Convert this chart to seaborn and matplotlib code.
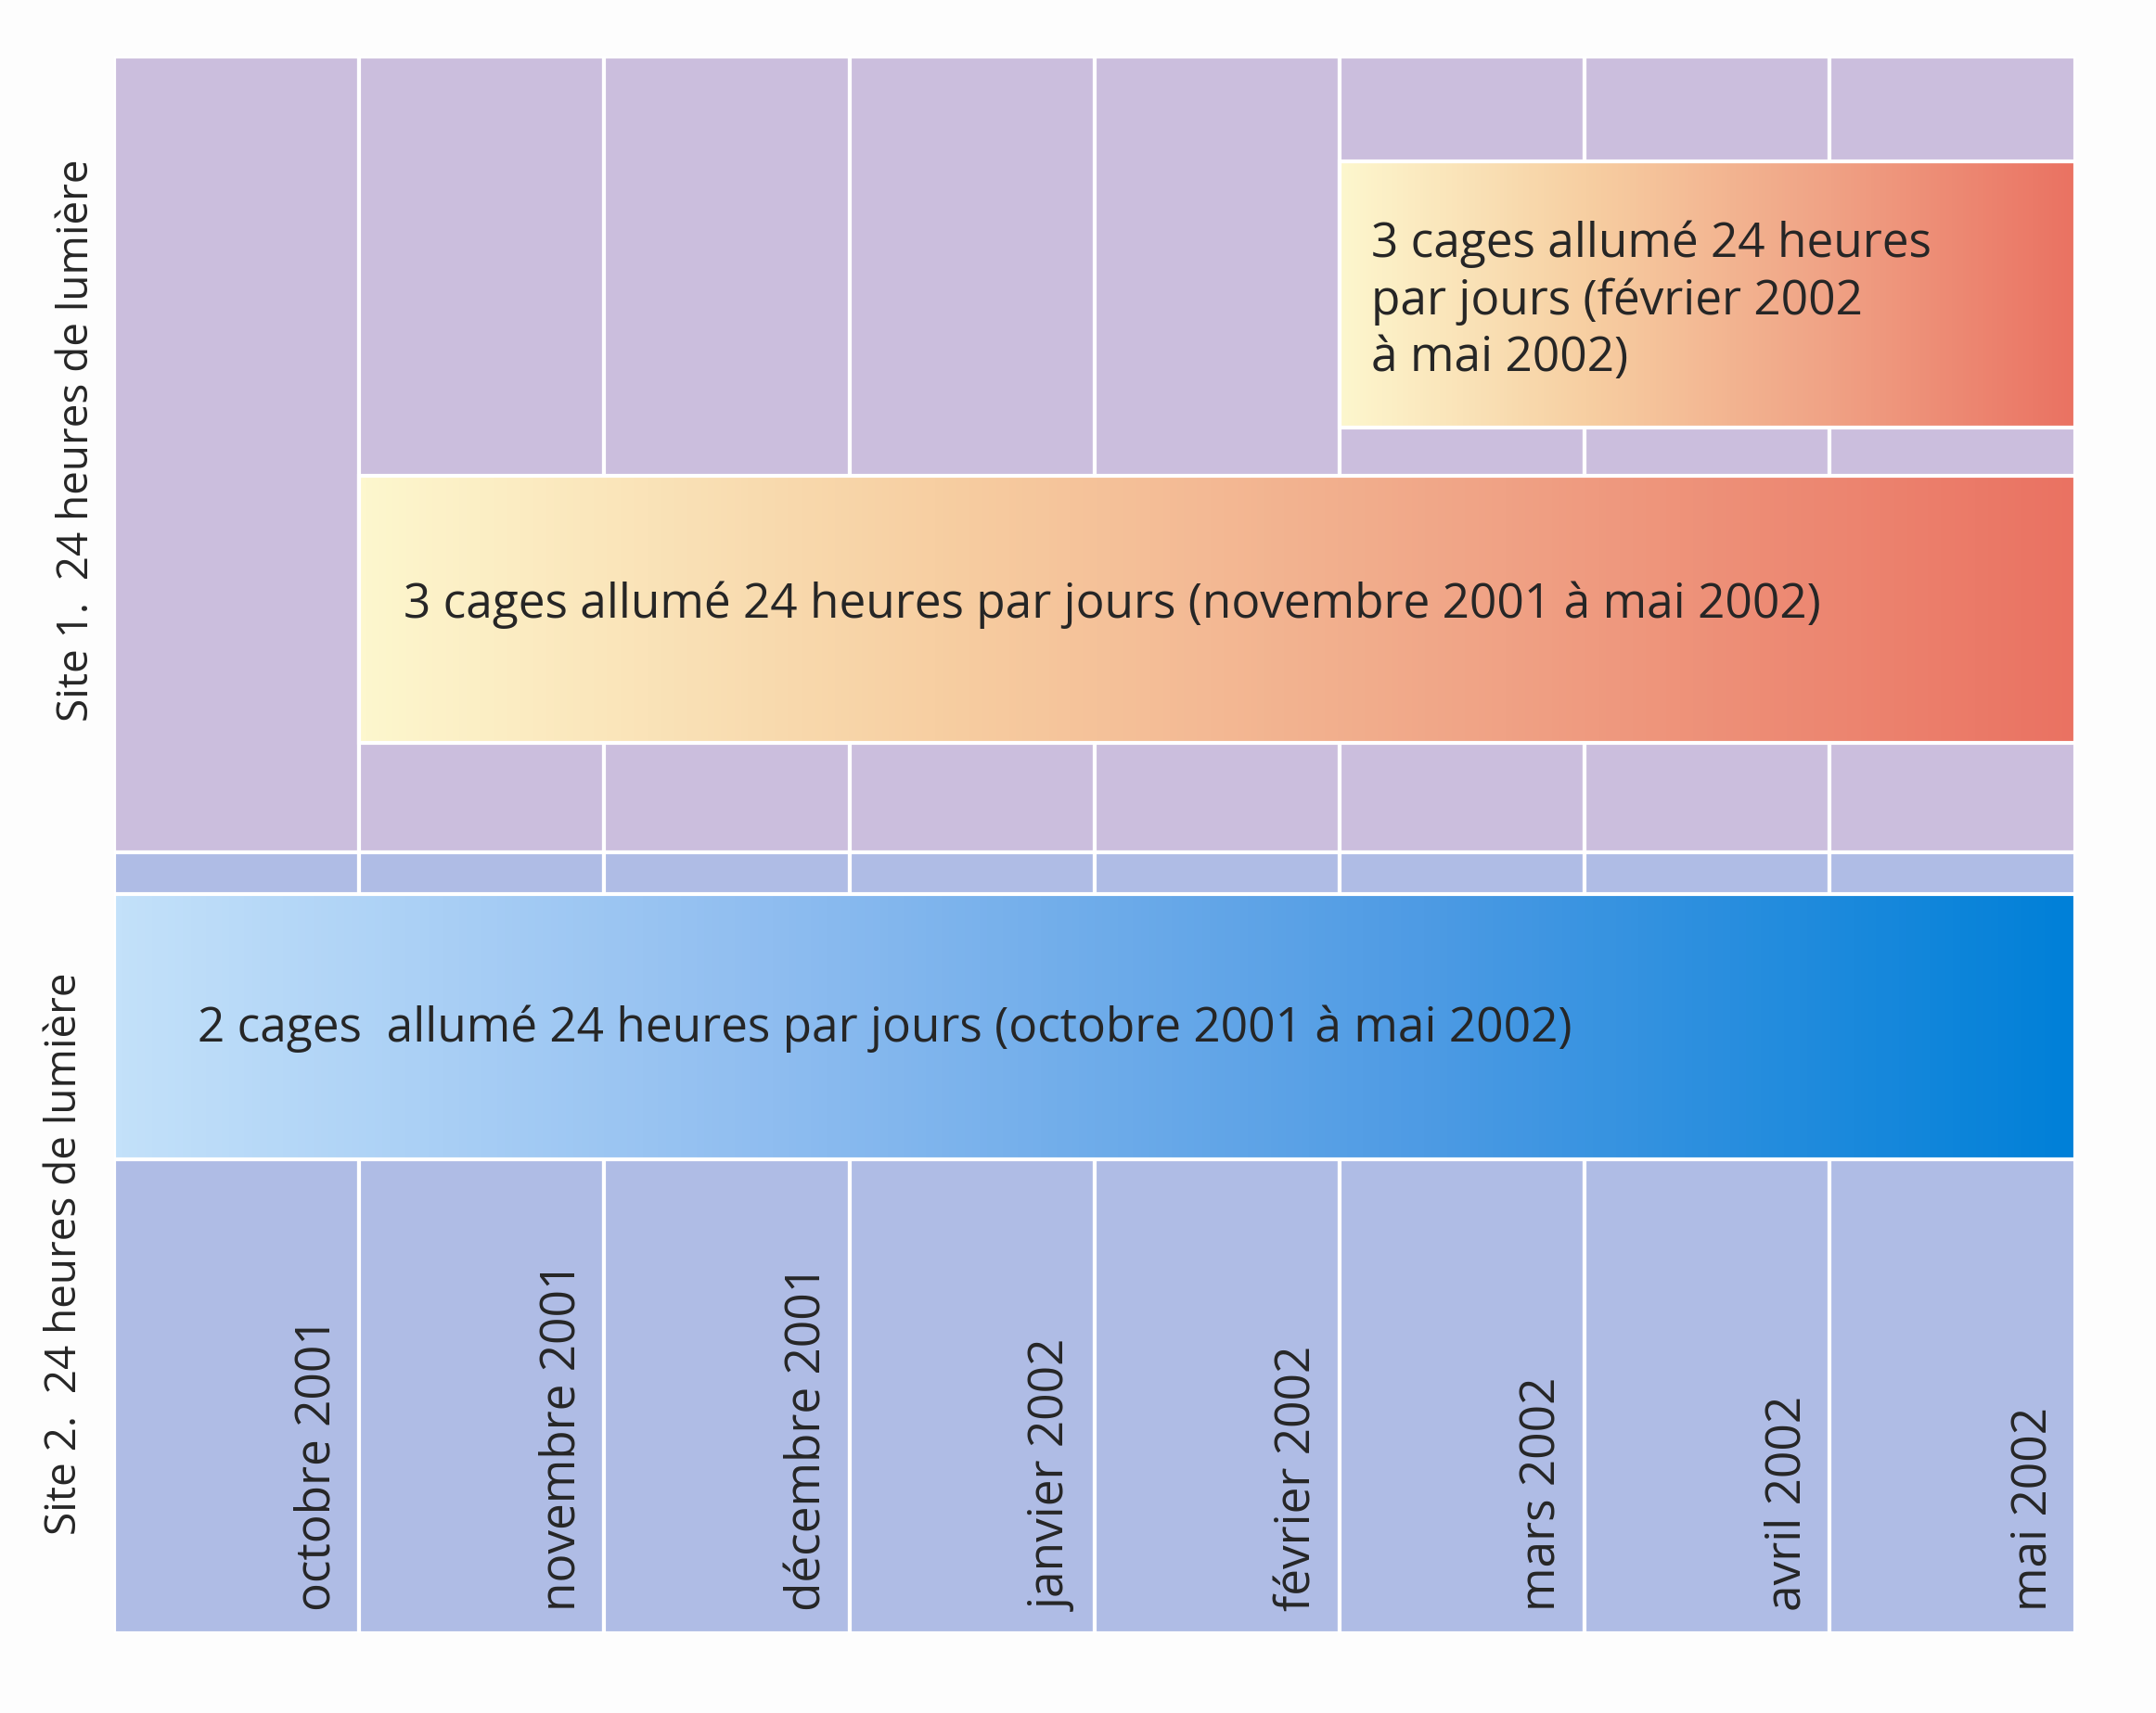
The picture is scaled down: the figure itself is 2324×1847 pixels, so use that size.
import numpy as np
import matplotlib.pyplot as plt
import seaborn as sns
from matplotlib.colors import LinearSegmentedColormap
from matplotlib.patches import Rectangle

sns.set_theme(style="white")
plt.rcParams["font.family"] = "Open Sans"

# Months (columns) and the bars (start column, end column, bottom, top)
months = ["octobre 2001", "novembre 2001", "décembre 2001", "janvier 2002",
          "février 2002", "mars 2002", "avril 2002", "mai 2002"]
bar_starts = [5, 1, 0]
bar_ends = [8, 8, 8]
bar_bottoms = [877, 648, 345]
bar_tops = [1071, 842, 538]
bar_texts = ["3 cages allumé 24 heures\npar jours (février 2002\nà mai 2002)",
             "3 cages allumé 24 heures par jours (novembre 2001 à mai 2002)",
             "2 cages  allumé 24 heures par jours (octobre 2001 à mai 2002)"]
site_labels = ["Site 1.  24 heures de lumière", "Site 2.  24 heures de lumière"]

warm = LinearSegmentedColormap.from_list("warm", ["#FDF7CE", "#F7CFA2", "#F0A285", "#EA7262"])
cool = LinearSegmentedColormap.from_list("cool", ["#C3E1FA", "#8FBDF0", "#4E9BE4", "#0080D8"])
bar_cmaps = [warm, warm, cool]

fig = plt.figure(figsize=(23.24, 18.47), dpi=100)
fig.patch.set_facecolor("#FDFDFD")
ax = fig.add_axes([0.0529, 0.0465, 0.9095, 0.9205])
ax.set_xlim(0, 8)
ax.set_ylim(0, 1147)
ax.axis("off")

# background cells
for i in range(len(months)):
    ax.add_patch(Rectangle((i, 568), 1, 579, facecolor="#CBBEDD", edgecolor="white", lw=3))
    ax.add_patch(Rectangle((i, 0), 1, 568, facecolor="#AFBCE5", edgecolor="white", lw=3))

grad = np.linspace(0, 1, 256).reshape(1, -1)
for s, e, b, t, txt, cm in zip(bar_starts, bar_ends, bar_bottoms, bar_tops, bar_texts, bar_cmaps):
    ax.imshow(grad, cmap=cm, aspect="auto", extent=(s, e, b, t), zorder=2)
    ax.add_patch(Rectangle((s, b), e - s, t - b, fill=False, edgecolor="white", lw=3, zorder=3))

ax.text(5.13, 969, bar_texts[0], fontsize=37, va="center", ha="left", zorder=4, linespacing=1.25)
ax.text(1.18, 748, bar_texts[1], fontsize=37, va="center", ha="left", zorder=4)
ax.text(0.34, 440, bar_texts[2], fontsize=37, va="center", ha="left", zorder=4)

for i, m in enumerate(months):
    ax.text(i + 0.83, 16, m, rotation=90, fontsize=37, ha="center", va="bottom", zorder=4)

ax.text(-0.15, 868, site_labels[0], rotation=90, fontsize=33, ha="center", va="center", clip_on=False)
ax.text(-0.2, 276, site_labels[1], rotation=90, fontsize=33, ha="center", va="center", clip_on=False)

ax.set_ylim(0, 1147)
fig.savefig("out.png", dpi=100, facecolor=fig.get_facecolor())
